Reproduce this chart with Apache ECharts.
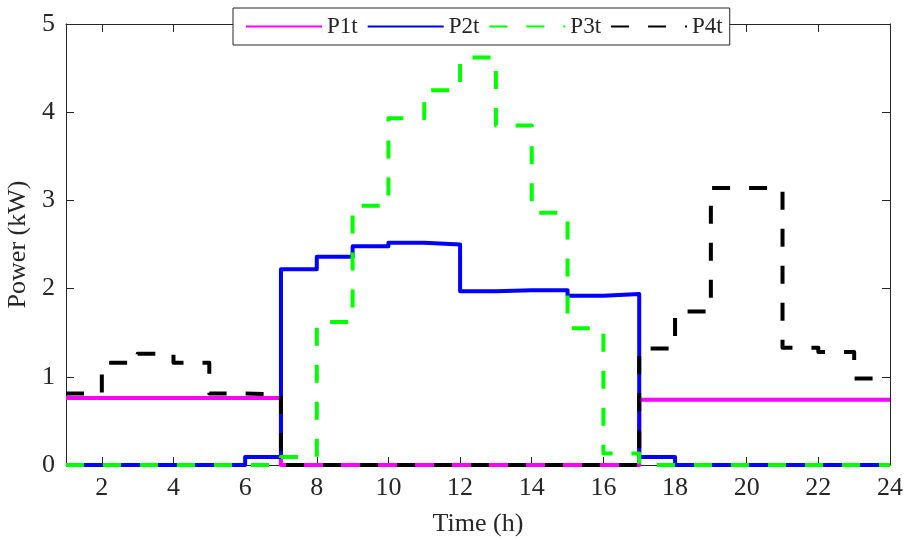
<!DOCTYPE html>
<html>
<head>
<meta charset="utf-8">
<script src="https://cdn.jsdelivr.net/npm/echarts@6/dist/echarts.min.js"></script>
<style>
html,body{margin:0;padding:0;background:#fff;}
#c{width:907px;height:540px;}
</style>
</head>
<body>
<div id="c"></div>
<script>
const hours = [1,2,3,4,5,6,7,8,9,10,11,12,13,14,15,16,17,18,19,20,21,22,23,24];
const P1t = [0.76,0.76,0.76,0.76,0.76,0.76,0,0,0,0,0,0,0,0,0,0,0.74,0.74,0.74,0.74,0.74,0.74,0.74,0.74];
const P2t = [0,0,0,0,0,0.09,2.22,2.36,2.48,2.52,2.50,1.97,1.98,1.98,1.92,1.94,0.09,0,0,0,0,0,0,0];
const P3t = [0,0,0,0,0,0,0.09,1.62,2.94,3.93,4.25,4.62,3.85,2.86,1.55,0.13,0,0,0,0,0,0,0,0];
const P4t = [0.81,1.16,1.26,1.16,0.81,0.80,0,0,0,0,0,0,0,0,0,0,1.32,1.74,3.14,3.14,1.33,1.28,0.98,0.98];
const xTicks = [2,4,6,8,10,12,14,16,18,20,22,24];
const seriesNames = ['P1t','P2t','P3t','P4t'];
const xTitle = 'Time (h)';
const yTitle = 'Power (kW)';

const FONT = 'Liberation Serif';
const AX = '#262626';
function pairs(v){ return hours.map((h,i)=>[h, v[i]]); }

const chart = echarts.init(document.getElementById('c'), null, {renderer:'canvas'});
const axisCommon = {
  axisLine:{show:true, onZero:false, lineStyle:{color:AX, width:1}},
  axisTick:{show:true, inside:true, length:8, lineStyle:{color:AX, width:1}},
  splitLine:{show:false}
};
const styles = [
  {color:'#FF00FF', type:'solid'},
  {color:'#0000FF', type:'solid'},
  {color:'#00FF00', type:[18,19]},
  {color:'#000000', type:[18,19]}
];
const datas = [P1t,P2t,P3t,P4t];
chart.setOption({
  animation:false,
  backgroundColor:'#fff',
  textStyle:{fontFamily:FONT, color:AX},
  grid:{left:66, right:17, top:24, bottom:75, containLabel:false, outerBoundsMode:'none'},
  legend:{
    left:233, top:8,
    padding:[7,7,7,12],
    itemGap:9,
    itemWidth:76, itemHeight:20,
    backgroundColor:'#fff',
    borderColor:AX, borderWidth:1, borderRadius:0,
    itemStyle:{opacity:0},
    textStyle:{fontFamily:FONT, fontSize:23, color:AX, padding:[0,0,0,0]},
    data:seriesNames
  },
  xAxis:[
    Object.assign({}, axisCommon, {
      type:'value', min:1, max:24, position:'bottom',
      axisTick:Object.assign({}, axisCommon.axisTick, {customValues:xTicks}),
      axisLabel:{show:true, customValues:xTicks, fontSize:26, fontFamily:FONT, color:AX, margin:10},
      name:xTitle, nameLocation:'middle', nameGap:46,
      nameTextStyle:{fontSize:26, fontFamily:FONT, color:AX}
    }),
    Object.assign({}, axisCommon, {
      type:'value', min:1, max:24, position:'top',
      axisTick:Object.assign({}, axisCommon.axisTick, {customValues:xTicks}),
      axisLabel:{show:false, customValues:xTicks}
    })
  ],
  yAxis:[
    Object.assign({}, axisCommon, {
      type:'value', min:0, max:5, interval:1, position:'left',
      axisLabel:{show:true, fontSize:26, fontFamily:FONT, color:AX, margin:11},
      name:yTitle, nameLocation:'middle', nameGap:32, nameRotate:90,
      nameTextStyle:{fontSize:26, fontFamily:FONT, color:AX}
    }),
    Object.assign({}, axisCommon, {
      type:'value', min:0, max:5, interval:1, position:'right',
      axisLabel:{show:false}
    })
  ],
  series: seriesNames.map((n,i)=>({
    name:n, type:'line', step:'end', data:pairs(datas[i]),
    xAxisIndex:0, yAxisIndex:0,
    symbol:'none', showSymbol:false, clip:false,
    color:styles[i].color,
    lineStyle:{color:styles[i].color, width:4, type:styles[i].type, cap:'butt', join:'round'},
    z:2+i
  }))
});
</script>
</body>
</html>
